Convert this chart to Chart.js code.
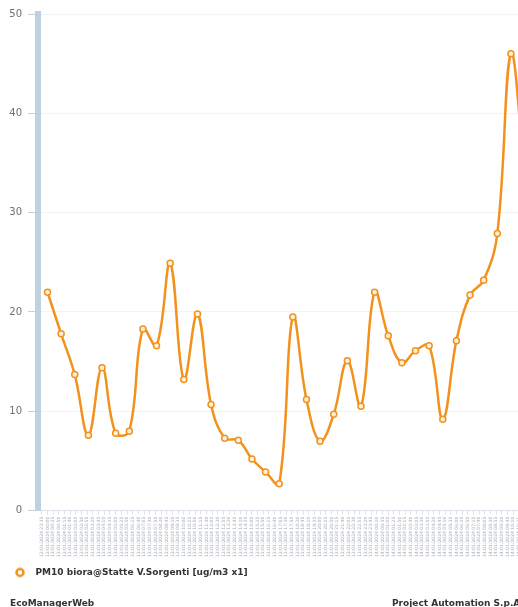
<!DOCTYPE html>
<html>
<head>
<meta charset="utf-8">
<script src="https://cdn.jsdelivr.net/npm/chart.js@4.4.1/dist/chart.umd.min.js"></script>
<style>
  html, body { margin: 0; padding: 0; background: #fff; overflow: hidden; }
  #wrap { position: relative; width: 518px; height: 607px; overflow: hidden; }
  #chart { position: absolute; left: 0; top: 0; }
  .foot { position: absolute; top: 598px; font: bold 9px "DejaVu Sans", sans-serif; color: #333; white-space: nowrap; }
</style>
</head>
<body>
<div id="wrap">
  <canvas id="chart" width="550" height="600" style="width:550px;height:600px"></canvas>
  <div class="foot" style="left:10px">EcoManagerWeb</div>
  <div class="foot" style="left:392px">Project Automation S.p.A.</div>
</div>
<script>
// ore dall'inizio della serie (13/01/2024 00:00)
const hours = [0, 1, 2, 3, 4, 5, 6, 7, 8, 9, 10, 11, 12, 13, 14, 15, 16, 17,
  18, 19, 20, 21, 22, 23, 24, 25, 26, 27, 28, 29, 30, 31, 32, 33, 34, 35]

// PM10 [ug/m3]
const pm10 = [22.0, 17.8, 13.7, 7.6, 14.4, 7.8, 8.0, 18.3, 16.6, 24.9, 13.2, 19.8,
  10.7, 7.3, 7.1, 5.2, 3.9, 2.7, 19.5, 11.2, 7.0, 9.7, 15.1, 10.5,
  22.0, 17.6, 14.9, 16.1, 16.6, 9.2, 17.1, 21.7, 23.2, 27.9, 46.0, 34.0]

// etichette asse x (una ogni 25 minuti)
const xTickStart = -25 / 60
const xTickStep = 25 / 60
const xTickLabels = [
  '12/01/2024 23:35',
  '13/01/2024 00:00', '13/01/2024 00:25', '13/01/2024 00:50', '13/01/2024 01:15', '13/01/2024 01:40', '13/01/2024 02:05',
  '13/01/2024 02:30', '13/01/2024 02:55', '13/01/2024 03:20', '13/01/2024 03:45', '13/01/2024 04:10', '13/01/2024 04:35',
  '13/01/2024 05:00', '13/01/2024 05:25', '13/01/2024 05:50', '13/01/2024 06:15', '13/01/2024 06:40', '13/01/2024 07:05',
  '13/01/2024 07:30', '13/01/2024 07:55', '13/01/2024 08:20', '13/01/2024 08:45', '13/01/2024 09:10', '13/01/2024 09:35',
  '13/01/2024 10:00', '13/01/2024 10:25', '13/01/2024 10:50', '13/01/2024 11:15', '13/01/2024 11:40', '13/01/2024 12:05',
  '13/01/2024 12:30', '13/01/2024 12:55', '13/01/2024 13:20', '13/01/2024 13:45', '13/01/2024 14:10', '13/01/2024 14:35',
  '13/01/2024 15:00', '13/01/2024 15:25', '13/01/2024 15:50', '13/01/2024 16:15', '13/01/2024 16:40', '13/01/2024 17:05',
  '13/01/2024 17:30', '13/01/2024 17:55', '13/01/2024 18:20', '13/01/2024 18:45', '13/01/2024 19:10', '13/01/2024 19:35',
  '13/01/2024 20:00', '13/01/2024 20:25', '13/01/2024 20:50', '13/01/2024 21:15', '13/01/2024 21:40', '13/01/2024 22:05',
  '13/01/2024 22:30', '13/01/2024 22:55', '13/01/2024 23:20', '13/01/2024 23:45', '14/01/2024 00:10', '14/01/2024 00:35',
  '14/01/2024 01:00', '14/01/2024 01:25', '14/01/2024 01:50', '14/01/2024 02:15', '14/01/2024 02:40', '14/01/2024 03:05',
  '14/01/2024 03:30', '14/01/2024 03:55', '14/01/2024 04:20', '14/01/2024 04:45', '14/01/2024 05:10', '14/01/2024 05:35',
  '14/01/2024 06:00', '14/01/2024 06:25', '14/01/2024 06:50', '14/01/2024 07:15', '14/01/2024 07:40', '14/01/2024 08:05',
  '14/01/2024 08:30', '14/01/2024 08:55', '14/01/2024 09:20', '14/01/2024 09:45', '14/01/2024 10:10', '14/01/2024 10:35',
  '14/01/2024 11:00', '14/01/2024 11:25', '14/01/2024 11:50'
]

const yTicks = [0, 10, 20, 30, 40, 50]

const ORANGE = '#f2921c'

// simbolo della legenda: anello arancione spesso
function ringMarker() {
  const c = document.createElement('canvas')
  c.width = 12
  c.height = 12
  const g = c.getContext('2d')
  g.beginPath()
  g.arc(6, 6, 3.5, 0, Math.PI * 2)
  g.fillStyle = '#ffffff'
  g.fill()
  g.lineWidth = 2.5
  g.strokeStyle = ORANGE
  g.stroke()
  return c
}
const legendMarker = ringMarker()

const ctx = document.getElementById('chart').getContext('2d')
new Chart(ctx, {
  type: 'line',
  data: {
    datasets: [{
      label: 'PM10 biora@Statte V.Sorgenti [ug/m3 x1]',
      data: pm10.map((v, i) => ({ x: hours[i], y: v })),
      borderColor: ORANGE,
      backgroundColor: '#ffffff',
      borderWidth: 2.5,
      tension: 0.4,
      fill: false,
      pointRadius: 3,
      pointBorderWidth: 1.5,
      pointBackgroundColor: '#fff1dc',
      pointBorderColor: ORANGE
    }]
  },
  options: {
    responsive: false,
    animation: false,
    layout: { padding: { top: 14, left: 0, right: 8, bottom: 13 } },
    plugins: {
      legend: {
        position: 'bottom',
        align: 'start',
        labels: {
          usePointStyle: true,
          pointStyleWidth: 22,
          boxHeight: 9,
          padding: 9,
          color: '#333',
          font: { family: 'DejaVu Sans', size: 9, weight: 'bold' },
          generateLabels: chart => Chart.defaults.plugins.legend.labels.generateLabels(chart)
            .map(item => ({ ...item, pointStyle: legendMarker }))
        }
      },
      tooltip: { enabled: false }
    },
    scales: {
      x: {
        type: 'linear',
        min: -0.697,
        max: 36.28,
        afterBuildTicks: scale => {
          scale.ticks = xTickLabels.map((l, k) => ({ value: xTickStart + k * xTickStep }))
        },
        ticks: {
          autoSkip: false,
          minRotation: 90,
          maxRotation: 90,
          padding: 2,
          color: '#a4aeb8',
          font: { family: 'DejaVu Sans', size: 4.5 },
          callback: (v, i) => xTickLabels[i]
        },
        grid: { drawOnChartArea: false, tickLength: 4, color: '#dde3ea' },
        border: { color: '#dde3ea', width: 1 }
      },
      y: {
        min: 0,
        max: 50,
        afterFit: scale => { scale.width = 38 },
        afterBuildTicks: scale => {
          scale.ticks = yTicks.map(v => ({ value: v }))
        },
        ticks: {
          padding: 6,
          color: '#66727e',
          font: { family: 'DejaVu Sans', size: 10 }
        },
        grid: { color: '#f1f3f5', tickColor: '#c5cdd5', tickLength: 10 },
        border: { color: '#bfd1e1', width: 6 }
      }
    }
  }
})
</script>
</body>
</html>
